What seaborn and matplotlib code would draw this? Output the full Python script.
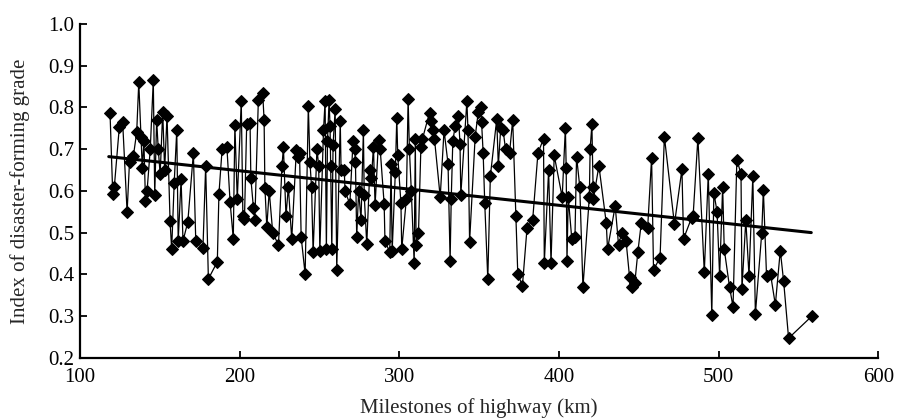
import numpy as np
import pandas as pd
import matplotlib
matplotlib.use("Agg")
import matplotlib.pyplot as plt
import seaborn as sns

# ---- data ----
km = [118.8, 120.5, 121.5, 124.6, 126.7, 129.5, 131.0, 133.4, 135.5, 136.8,
      138.2, 139.0, 140.0, 141.0, 142.0, 144.0, 145.9, 146.8, 148.0, 149.0,
      150.2, 151.8, 153.0, 154.5, 156.4, 157.4, 159.0, 160.6, 161.5, 163.3,
      164.5, 167.5, 171.0, 172.5, 177.0, 178.7, 180.4, 186.0, 187.0, 189.0,
      192.0, 194.0, 196.0, 197.0, 198.5, 201.0, 202.0, 203.0, 204.4, 206.5,
      207.0, 208.6, 209.5, 211.7, 214.4, 215.3, 215.8, 217.0, 218.5, 220.7,
      224.3, 226.5, 227.4, 229.0, 230.5, 232.6, 235.5, 236.5, 237.5, 238.5,
      241.0, 243.0, 244.0, 245.0, 246.0, 248.4, 249.5, 250.2, 252.5, 253.5,
      254.3, 255.0, 256.0, 256.6, 257.0, 257.7, 258.5, 259.8, 260.8, 263.0,
      263.5, 265.5, 266.0, 269.0, 271.0, 272.0, 272.5, 273.3, 274.5, 276.0,
      277.5, 278.0, 279.6, 281.5, 282.5, 283.8, 284.8, 287.0, 288.0, 290.5,
      291.0, 294.0, 294.8, 295.5, 297.5, 298.4, 299.0, 301.0, 301.5, 304.4,
      305.5, 306.3, 307.5, 309.3, 310.0, 310.5, 312.0, 313.5, 314.5, 318.9,
      320.0, 321.0, 322.0, 325.6, 328.0, 330.5, 331.8, 332.5, 333.5, 335.0,
      337.0, 338.0, 338.5, 342.3, 343.0, 344.0, 347.5, 349.5, 351.0, 351.5,
      352.5, 353.5, 355.4, 357.0, 361.0, 362.0, 363.5, 365.0, 366.5, 369.0,
      371.0, 373.0, 374.2, 377.1, 380.0, 383.5, 386.8, 390.3, 390.8, 393.5,
      395.0, 397.0, 402.0, 404.0, 404.5, 405.0, 405.8, 408.0, 410.0, 411.0,
      413.0, 415.0, 419.0, 419.5, 420.6, 421.3, 421.5, 425.0, 429.6, 430.4,
      435.2, 437.3, 439.3, 442.0, 444.2, 446.0, 447.5, 449.4, 451.5, 455.5,
      458.0, 459.2, 463.3, 466.0, 472.3, 477.0, 478.0, 483.0, 484.0, 487.0,
      491.0, 493.5, 495.7, 497.0, 499.0, 500.6, 502.5, 503.5, 506.8, 509.0,
      511.4, 514.0, 514.6, 517.0, 519.0, 521.4, 523.0, 527.0, 528.0, 530.0,
      532.5, 535.5, 538.6, 540.7, 543.8, 558.4]
grade = [0.787, 0.592, 0.610, 0.752, 0.765, 0.549, 0.670, 0.683, 0.740, 0.860,
         0.730, 0.655, 0.720, 0.575, 0.600, 0.700, 0.865, 0.590, 0.770, 0.700,
         0.640, 0.790, 0.650, 0.780, 0.528, 0.460, 0.620, 0.745, 0.480, 0.628,
         0.480, 0.525, 0.690, 0.480, 0.463, 0.659, 0.389, 0.430, 0.592, 0.700,
         0.705, 0.573, 0.485, 0.757, 0.580, 0.815, 0.540, 0.532, 0.760, 0.763,
         0.630, 0.560, 0.530, 0.818, 0.835, 0.770, 0.608, 0.513, 0.600, 0.500,
         0.470, 0.660, 0.704, 0.540, 0.610, 0.484, 0.698, 0.680, 0.690, 0.490,
         0.400, 0.803, 0.670, 0.610, 0.453, 0.700, 0.660, 0.455, 0.745, 0.815,
         0.460, 0.720, 0.817, 0.755, 0.660, 0.460, 0.710, 0.795, 0.410, 0.767,
         0.650, 0.650, 0.600, 0.568, 0.720, 0.700, 0.670, 0.490, 0.600, 0.530,
         0.745, 0.590, 0.472, 0.650, 0.630, 0.706, 0.565, 0.723, 0.700, 0.568,
         0.480, 0.453, 0.665, 0.455, 0.645, 0.775, 0.685, 0.570, 0.460, 0.580,
         0.820, 0.700, 0.600, 0.427, 0.725, 0.470, 0.500, 0.705, 0.725, 0.787,
         0.767, 0.745, 0.725, 0.585, 0.745, 0.665, 0.433, 0.580, 0.720, 0.755,
         0.780, 0.713, 0.590, 0.815, 0.745, 0.478, 0.730, 0.790, 0.800, 0.765,
         0.690, 0.570, 0.389, 0.635, 0.772, 0.660, 0.750, 0.745, 0.700, 0.690,
         0.770, 0.540, 0.400, 0.373, 0.512, 0.530, 0.690, 0.725, 0.427, 0.650,
         0.427, 0.685, 0.585, 0.751, 0.655, 0.433, 0.585, 0.485, 0.490, 0.682,
         0.610, 0.369, 0.585, 0.700, 0.759, 0.610, 0.580, 0.660, 0.523, 0.460,
         0.564, 0.470, 0.500, 0.480, 0.393, 0.369, 0.380, 0.454, 0.522, 0.510,
         0.679, 0.411, 0.440, 0.730, 0.520, 0.652, 0.485, 0.535, 0.540, 0.727,
         0.405, 0.640, 0.303, 0.595, 0.550, 0.396, 0.610, 0.460, 0.370, 0.322,
         0.675, 0.640, 0.365, 0.530, 0.397, 0.635, 0.305, 0.500, 0.602, 0.395,
         0.400, 0.327, 0.457, 0.383, 0.247, 0.300]

trend_km = [118.0, 558.0]
trend_grade = [0.682, 0.500]

x_ticks = [100, 200, 300, 400, 500, 600]
y_ticks = [0.2, 0.3, 0.4, 0.5, 0.6, 0.7, 0.8, 0.9, 1.0]

df = pd.DataFrame({"km": km, "grade": grade})
trend = pd.DataFrame({"km": trend_km, "grade": trend_grade})

sns.set_theme(style="ticks")
plt.rcParams["font.family"] = ["Liberation Serif", "DejaVu Serif"]

fig = plt.figure(figsize=(8.99, 4.19), dpi=100)
ax = fig.add_axes([0.089, 0.146, 0.888, 0.797])

sns.lineplot(data=df, x="km", y="grade", ax=ax, sort=False, color="black",
             linewidth=0.9, marker="D", markersize=6.5, markeredgecolor="black",
             markerfacecolor="black", estimator=None)
sns.lineplot(data=trend, x="km", y="grade", ax=ax, color="black",
             linewidth=2.2, estimator=None)

ax.set_xlim(100, 600)
ax.set_ylim(0.2, 1.0)
ax.set_xticks(x_ticks)
ax.set_yticks(y_ticks)
ax.set_xticklabels([str(v) for v in x_ticks])
ax.set_yticklabels([f"{v:.1f}" for v in y_ticks])
ax.tick_params(direction="in", length=5, width=1.3, labelsize=15,
               colors="black")
ax.tick_params(axis="x", pad=7)
ax.tick_params(axis="y", pad=4)
ax.set_xlabel("Milestones of highway (km)", fontsize=15, labelpad=8)
ax.set_ylabel("Index of disaster-forming grade", fontsize=15, labelpad=13)
for s in ["top", "right"]:
    ax.spines[s].set_visible(False)
for s in ["left", "bottom"]:
    ax.spines[s].set_linewidth(1.6)
    ax.spines[s].set_color("black")

fig.savefig("out.png", dpi=100)
